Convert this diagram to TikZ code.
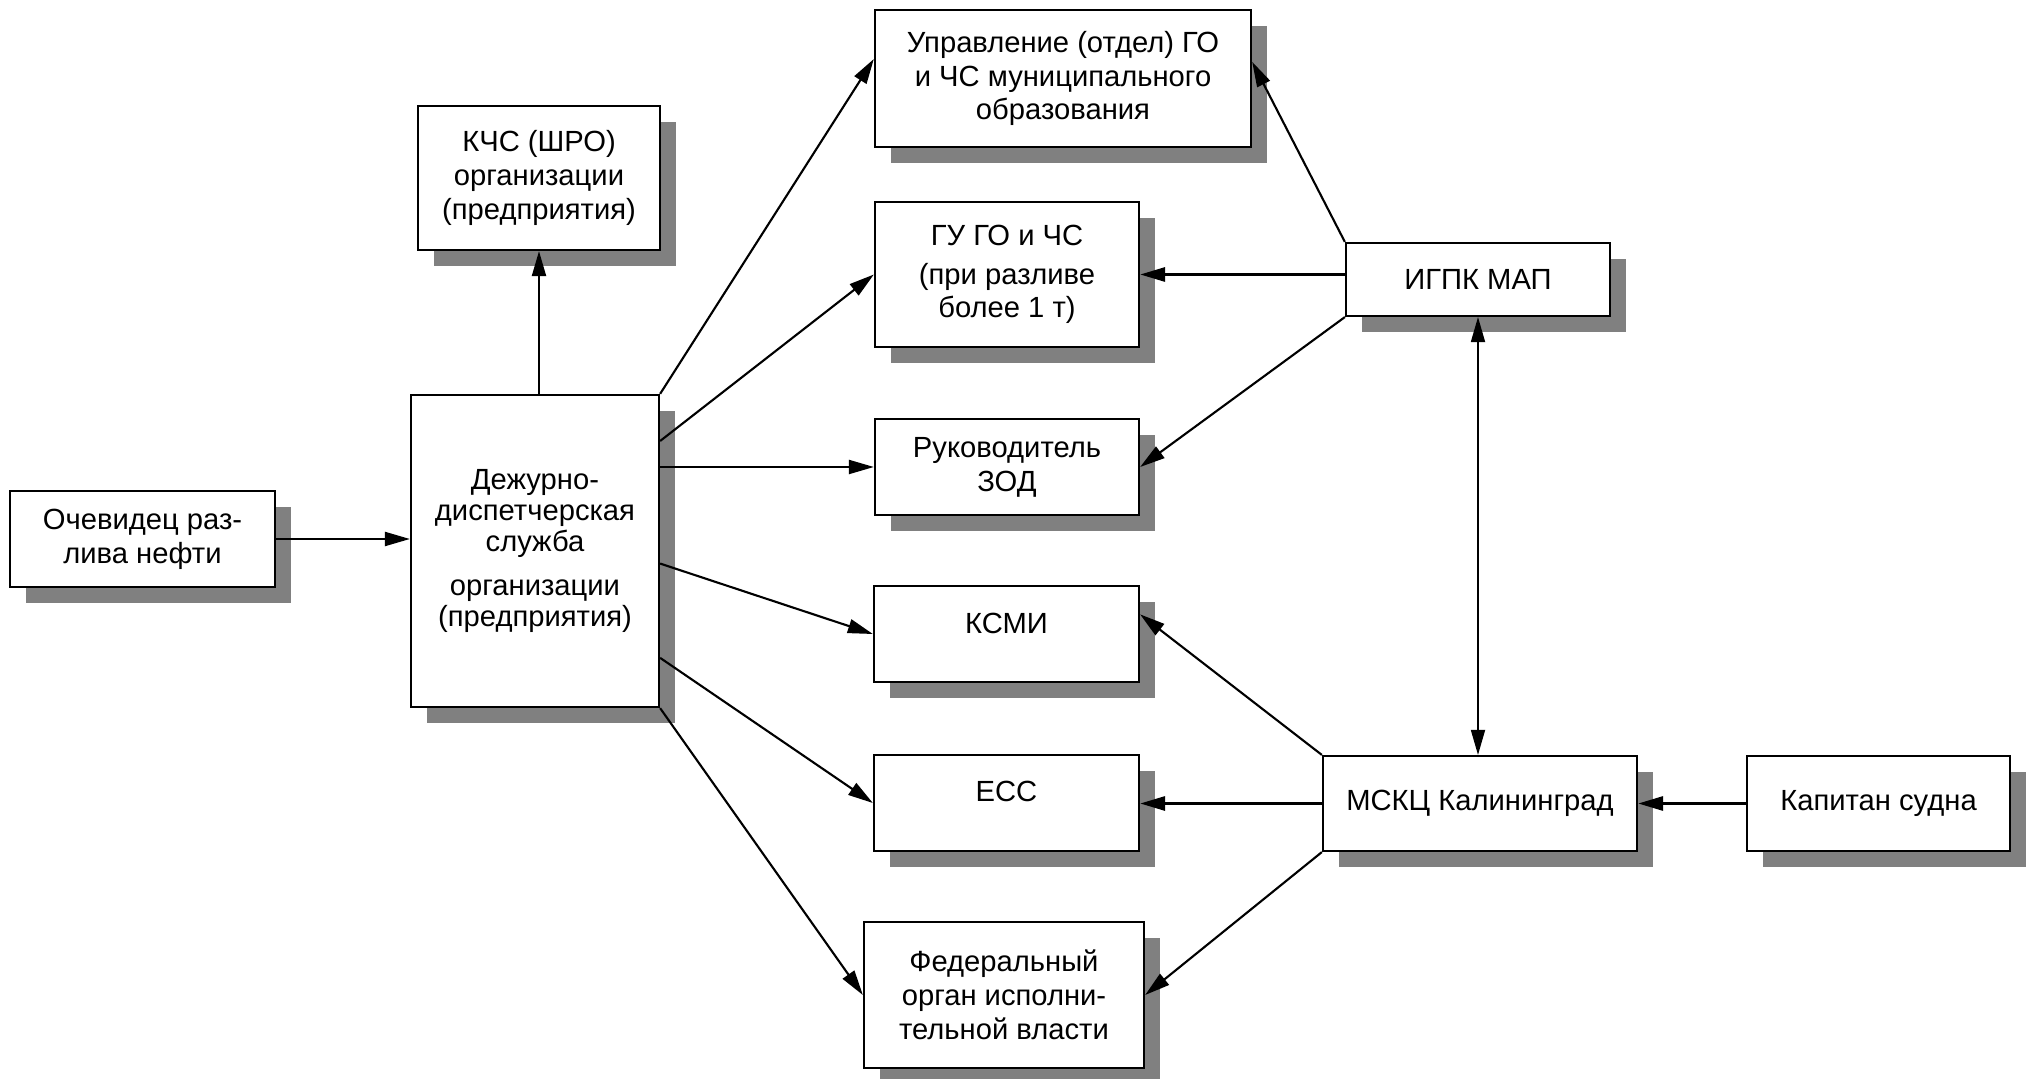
\documentclass[tikz,border=0pt]{standalone}
\usepackage{fontspec}
\setmainfont{Liberation Sans}
\usepackage{tikz}
\usetikzlibrary{arrows.meta,shadows,calc}

\begin{document}
\begin{tikzpicture}[x=0.01cm, y=-0.01cm,
    blk/.style={draw, line width=0.6pt, fill=white, align=center, inner sep=0pt,
        drop shadow={shadow xshift=0.16cm, shadow yshift=-0.16cm, fill=black!50, opacity=1},
        font=\fontsize{8.3pt}{9.6pt}\selectfont},
    arr/.style={-{Triangle[length=0.25cm,width=0.14cm]}, line width=0.6pt},
    darr/.style={{Triangle[length=0.25cm,width=0.14cm]}-{Triangle[length=0.25cm,width=0.14cm]}, line width=0.5pt},
    fat/.style={line width=0.85pt}]

\useasboundingbox (0,0) rectangle (2035,1079);

% left column
\node[blk, minimum width=2.65cm, minimum height=0.96cm] (och) at (142.5,539) {Очевидец раз-\\лива нефти};
\node[blk, minimum width=2.48cm, minimum height=3.12cm, font=\fontsize{8.3pt}{8.8pt}\selectfont] (ddc) at (535,551)
    {Дежурно-\\диспетчерская\\служба\\[0.14cm]организации\\(предприятия)};
\node[blk, minimum width=2.42cm, minimum height=1.44cm] (kchs) at (539,178)
    {КЧС (ШРО)\\организации\\(предприятия)};

% middle column
\node[blk, minimum width=3.76cm, minimum height=1.37cm] (upr) at (1063,78.5)
    {Управление (отдел) ГО\\и ЧС муниципального\\образования};
\node[blk, minimum width=2.64cm, minimum height=1.45cm] (gu) at (1007,274.5)
    {ГУ ГО и ЧС\\[0.05cm](при разливе\\более 1 т)};
\node[blk, minimum width=2.64cm, minimum height=0.96cm] (ruk) at (1007,467) {Руководитель\\ЗОД};
\node[blk, minimum width=2.65cm, minimum height=0.96cm, text depth=0.22cm] (ksmi) at (1006.5,634) {КСМИ};
\node[blk, minimum width=2.65cm, minimum height=0.96cm, text depth=0.24cm] (ess) at (1006.5,803) {ЕСС};
\node[blk, minimum width=2.80cm, minimum height=1.46cm] (fed) at (1004,995)
    {Федеральный\\орган исполни-\\тельной власти};

% right column
\node[blk, minimum width=2.64cm, minimum height=0.73cm] (igpk) at (1478,279.5) {ИГПК МАП};
\node[blk, minimum width=3.14cm, minimum height=0.95cm] (msk) at (1480,803.5) {МСКЦ Калининград};
\node[blk, minimum width=2.63cm, minimum height=0.95cm] (kap) at (1878.5,803.5) {Капитан судна};

% from the duty service
\draw[arr] (och.east) -- (och.east -| ddc.west);
\draw[arr] (kchs.south |- ddc.north) -- (kchs.south);
\draw[arr] (ddc.north east) -- ($(upr.north west)!0.36!(upr.south west)$);
\draw[arr] ($(ddc.north east)!0.15!(ddc.south east)$) -- (gu.west);
\draw[arr] (ruk.west -| ddc.east) -- (ruk.west);
\draw[arr] ($(ddc.north east)!0.54!(ddc.south east)$) -- (ksmi.west);
\draw[arr] ($(ddc.north east)!0.84!(ddc.south east)$) -- (ess.west);
\draw[arr] (ddc.south east) -- (fed.west);

% from ИГПК
\draw[arr] (igpk.north west) -- ($(upr.north east)!0.38!(upr.south east)$);
\draw[arr, fat] (gu.east -| igpk.west) -- (gu.east);
\draw[arr] (igpk.south west) -- (ruk.east);
\draw[darr] (igpk.south) -- (igpk.south |- msk.north);

% from МСКЦ
\draw[arr] (msk.north west) -- ($(ksmi.north east)!0.3!(ksmi.south east)$);
\draw[arr, fat] (msk.west) -- (msk.west -| ess.east);
\draw[arr] (msk.south west) -- (fed.east);
\draw[arr, fat] (kap.west) -- (msk.east);

\end{tikzpicture}
\end{document}
